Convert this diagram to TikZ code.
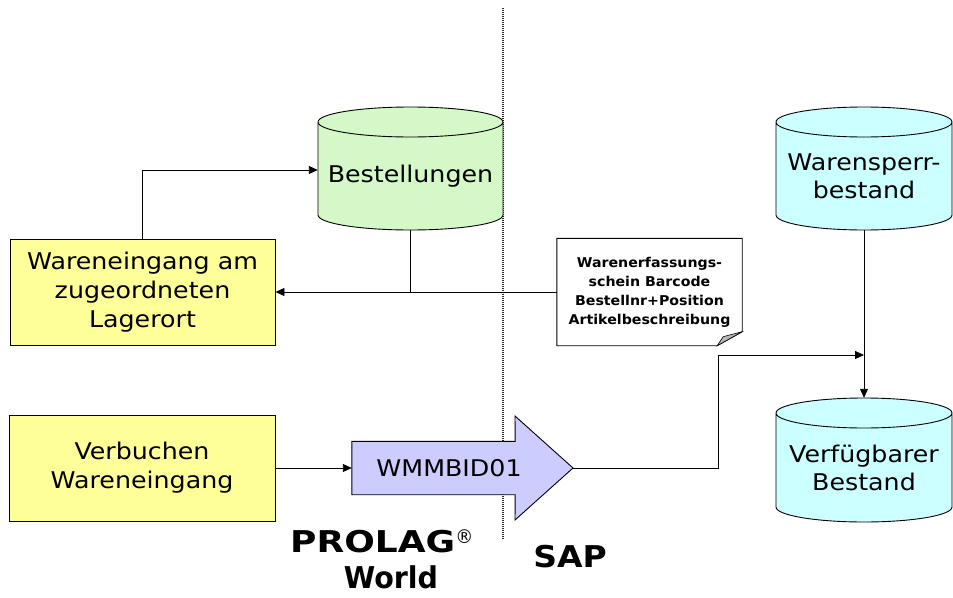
\documentclass[tikz,border=0pt]{standalone}
\usepackage{fontspec}
\setmainfont{DejaVu Sans}[FakeStretch=1.1]
\newfontfamily\notefont{DejaVu Sans}[FakeStretch=1.05]
\newfontfamily\bigfontA{DejaVu Sans}[FakeStretch=1.2]
\newfontfamily\bigfontB{DejaVu Sans}[FakeStretch=0.95]
\newfontfamily\bigfontC{DejaVu Sans}[FakeStretch=1.1]
\usetikzlibrary{arrows.meta,calc}
\definecolor{boxyellow}{HTML}{FFFF99}
\definecolor{cylgreen}{HTML}{D4F8C8}
\definecolor{cylcyan}{HTML}{CCFFFF}
\definecolor{lav}{HTML}{CCCCFF}
\definecolor{foldgray}{HTML}{B8B8B8}
\pgfdeclarelayer{background}
\pgfsetlayers{background,main}
\newcommand\drawcyl[6]{%
  \path[fill=#6] (#1-#4,-#2-#5) -- (#1-#4,-#3+#5)
    arc[start angle=180,end angle=360,x radius=#4,y radius=#5]
    -- (#1+#4,-#2-#5)
    arc[start angle=0,end angle=180,x radius=#4,y radius=#5] -- cycle;
  \draw[line width=0.9pt] (#1-#4,-#2-#5) -- (#1-#4,-#3+#5)
    arc[start angle=180,end angle=360,x radius=#4,y radius=#5]
    -- (#1+#4,-#2-#5)
    arc[start angle=0,end angle=360,x radius=#4,y radius=#5];
}
\begin{document}
\begin{tikzpicture}[x=1pt,y=1pt,
  box/.style={draw,line width=0.9pt,fill=boxyellow,align=center,inner sep=0pt,
    font=\fontsize{23}{29}\selectfont},
  cyltext/.style={align=center,inner sep=0pt,font=\fontsize{23}{28}\selectfont},
  notetext/.style={align=center,inner sep=0pt,font=\notefont\bfseries\fontsize{13.5}{19}\selectfont},
  conn/.style={draw,line width=0.9pt},
  arr/.style={-{Triangle[length=9pt,width=8pt]}},
  bigtext/.style={inner sep=0pt,anchor=base}
]
\useasboundingbox (0,0) rectangle (953,-597);

% nodes
\node[box,minimum width=265,minimum height=106] (we) at (142.5,-292)
  {Wareneingang am\\zugeordneten\\Lagerort};
\node[box,minimum width=266,minimum height=106] (vb) at (142,-468)
  {Verbuchen\\Wareneingang};
\node[cyltext,minimum width=185,minimum height=108] (best) at (410.5,-176) {Bestellungen};
\node[cyltext,minimum width=176,minimum height=108] (ws) at (864,-176) {Warensperr-\\bestand};
\node[cyltext,minimum width=176,minimum height=109] (vf) at (864,-467.5) {Verf\"ugbarer\\Bestand};
\node[notetext,minimum width=185,minimum height=107] (note) at (649.5,-292)
  {Warenerfassungs-\\schein Barcode\\Bestellnr+Position\\Artikelbeschreibung};
\node[inner sep=0pt,minimum width=163,minimum height=53] (wm) at (433.5,-468) {};
\node[inner sep=0pt,font=\fontsize{23}{28}\selectfont] (wmtext) at (449,-468) {WMMBID01};
\coordinate (wmtip) at (573,-468);
\coordinate (j2) at (864,-355);

\node[bigtext,anchor=base west] (prolag) at (290,-552)
  {\bigfontA\bfseries\fontsize{30}{34}\selectfont PROLAG\raisebox{9pt}{\bigfontB\mdseries\fontsize{19}{19}\selectfont ®}};
\node[bigtext] (world) at (391,-588) {\bigfontB\bfseries\fontsize{30}{34}\selectfont World};
\node[bigtext] (sap) at (570,-567) {\bigfontC\bfseries\fontsize{30}{34}\selectfont SAP};

% shapes behind text
\begin{pgfonlayer}{background}
  \draw[line width=1.1pt,gray!30!black,dash pattern=on 1pt off 1pt] (503,-8) -- (503,-540);
  \drawcyl{410.5}{107}{230}{92.5}{15}{cylgreen}
  \drawcyl{864}{107}{230}{88}{15}{cylcyan}
  \drawcyl{864}{398}{522}{88}{15}{cylcyan}
  \draw[line width=0.9pt,fill=white] (note.north west) -- (note.north east)
    -- ([yshift=14]note.south east) -- ([xshift=-25]note.south east)
    -- (note.south west) -- cycle;
  \draw[line width=0.6pt,fill=foldgray] ([yshift=14]note.south east)
    -- ([xshift=-19,yshift=9]note.south east) -- ([xshift=-25]note.south east) -- cycle;
  \draw[line width=0.9pt,fill=lav] (wm.south west) -- (wm.north west) -- (wm.north east)
    -- (515,-416) -- (wmtip) -- (515,-520) -- (wm.south east) -- cycle;
\end{pgfonlayer}

% connectors
\draw[conn,arr] (we.north) |- ([yshift=6]best.west);
\draw[conn] (best.south) -- (best.south |- note.west);
\draw[conn,arr] (note.west) -- (we.east |- note.west);
\draw[conn,arr] (vb.east) -- (wm.west);
\draw[conn,arr] (wmtip) -- (718,-468) |- (j2);
\draw[conn,arr] (ws.south) -- ([yshift=15]vf.north);
\end{tikzpicture}
\end{document}
